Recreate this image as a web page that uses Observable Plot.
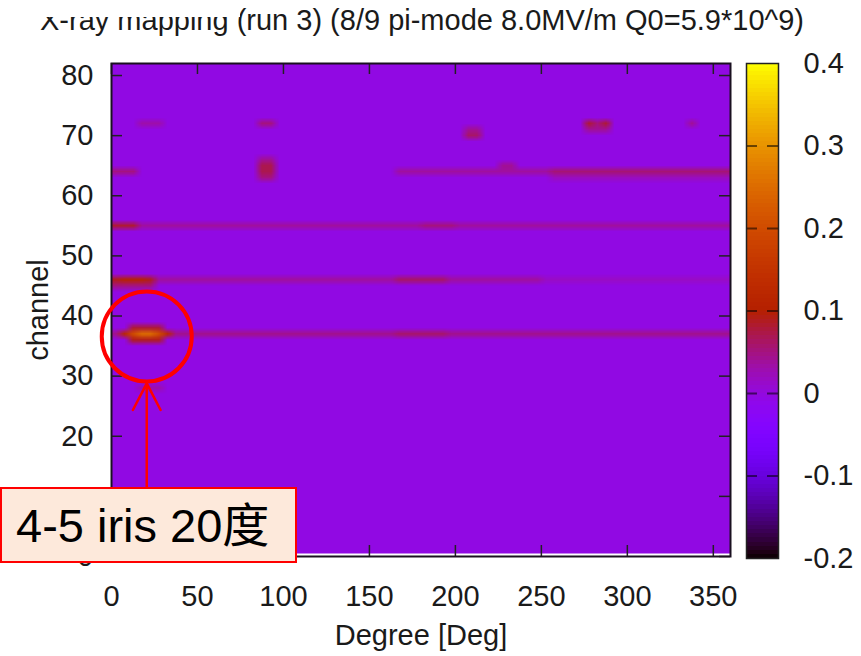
<!DOCTYPE html>
<html><head><meta charset="utf-8">
<script src="https://cdn.jsdelivr.net/npm/d3@7"></script>
<script src="https://cdn.jsdelivr.net/npm/@observablehq/plot@0.6"></script>
<style>
body{margin:0;background:#fff;font-family:"Liberation Sans",Arial,Helvetica,sans-serif;}
#wrap{position:relative;width:861px;height:656px;overflow:hidden;background:#fff;}
#title{position:absolute;left:40px;top:3px;font-size:29px;line-height:34px;color:#1a1a1a;white-space:nowrap;}
#titlecover{position:absolute;left:0;top:0;width:240px;height:17px;background:#fff;}
#main{position:absolute;left:0;top:0;}
#cbar{position:absolute;left:740px;top:0;}
#note{position:absolute;left:0;top:487px;width:297px;height:76px;box-sizing:border-box;border:2px solid #ff0000;background:#fde9db;font-size:47px;line-height:74px;padding-left:14px;color:#000;white-space:nowrap;font-family:"Liberation Sans",Arial,"Noto Sans CJK SC",sans-serif;}
</style></head>
<body><div id="wrap">
<div id="title"></div><div id="titlecover"></div>
<div id="main"></div><div id="cbar"></div><div id="note"></div>
</div>
<script>
const titleText = "X-ray mapping (run 3) (8/9 pi-mode 8.0MV/m Q0=5.9*10^9)";
const xLabel = "Degree [Deg]";
const yLabel = "channel";
const xTicks = [0, 50, 100, 150, 200, 250, 300, 350];
const yTicks = [0, 10, 20, 30, 40, 50, 60, 70, 80];
const yTickLabels = [0, 20, 30, 40, 50, 60, 70, 80];
const cbTicks = [-0.2, -0.1, 0, 0.1, 0.2, 0.3, 0.4];

// measurement grid: 5-degree columns, channels 1..82
const degrees = d3.range(0, 360, 5);
const channels = d3.range(1, 83);
const baseline = -0.005;

// features: [channel, fromDeg, toDeg, value]
const features = [
  [37, 0, 360, 0.045], [37, 165, 195, 0.06],
  [37, 5, 35, 0.12], [37, 10, 30, 0.2], [37, 15, 25, 0.25],
  [36, 10, 30, 0.09], [38, 10, 30, 0.08], [28, 15, 30, 0.03],
  [46, 0, 250, 0.035], [46, 250, 360, 0.015], [46, 0, 25, 0.09], [46, 5, 20, 0.11],
  [46, 165, 195, 0.06], [45, 0, 25, 0.05],
  [55, 0, 360, 0.035], [55, 0, 15, 0.08], [55, 180, 200, 0.05],
  [64, 0, 15, 0.05], [64, 165, 255, 0.035], [64, 255, 360, 0.055], [63, 255, 360, 0.02],
  [63, 85, 95, 0.05], [64, 85, 95, 0.07], [65, 85, 95, 0.07], [66, 85, 95, 0.04],
  [65, 225, 235, 0.04],
  [72, 85, 95, 0.05], [72, 15, 30, 0.03],
  [70, 205, 215, 0.06], [71, 205, 215, 0.04],
  [72, 275, 280, 0.08], [72, 280, 285, 0.05], [72, 285, 290, 0.08], [71, 275, 290, 0.04],
  [72, 335, 340, 0.04]
];

// annotation
const annotation = [{deg: 20.5, channel: 36.6, arrowFrom: 11.5, arrowTo: 28.8, label: "4-5 iris 20度"}];

const cells = [];
for (const c of channels) for (const d of degrees) {
  let v = baseline;
  for (const [ch, a, b, val] of features) if (ch === c && d >= a && d < b) v = Math.max(v, val);
  cells.push({deg: d + 2.5, channel: c, v});
}

function gnuplotPalette(t) {
  t = Math.max(0, Math.min(1, t));
  const r = Math.sqrt(t), g = t * t * t, b = Math.max(0, Math.sin(2 * Math.PI * t));
  return `rgb(${Math.round(255 * r)},${Math.round(255 * g)},${Math.round(255 * b)})`;
}
const colorScale = {type: "linear", domain: [-0.2, 0.4], interpolate: gnuplotPalette, clamp: true};
const font = '"Liberation Sans", Arial, Helvetica, sans-serif';

document.getElementById("title").textContent = titleText;
document.getElementById("note").textContent = annotation[0].label;

const W = 740, H = 656, ML = 111, MR = 10, MT = 63, MB = 100;
const innerW = W - ML - MR, innerH = H - MT - MB, tickLen = 11;

const main = Plot.plot({
  width: W, height: H, marginLeft: ML, marginRight: MR, marginTop: MT, marginBottom: MB,
  x: {domain: [0, 360]}, y: {domain: [0, 82]},
  color: colorScale,
  style: {fontFamily: font, fontSize: "29px", color: "#1a1a1a", background: "transparent", overflow: "visible"},
  marks: [
    Plot.raster(cells, {x: "deg", y: "channel", fill: "v", width: degrees.length, height: channels.length,
      x1: 0, x2: 360, y1: 0.5, y2: 82.5, imageRendering: "auto", clip: true}),
    Plot.tickX(xTicks, {x: d => d, insetTop: innerH - tickLen, stroke: "#222", strokeWidth: 1.5}),
    Plot.tickX(xTicks, {x: d => d, insetBottom: innerH - tickLen, stroke: "#222", strokeWidth: 1.5}),
    Plot.tickY(yTicks, {y: d => d, insetRight: innerW - tickLen, stroke: "#222", strokeWidth: 1.5}),
    Plot.tickY(yTicks, {y: d => d, insetLeft: innerW - tickLen, stroke: "#222", strokeWidth: 1.5}),
    Plot.frame({stroke: "#1a1020", strokeWidth: 2}),
    Plot.axisX({ticks: xTicks, tickSize: 0, tickPadding: 29, tickFormat: d => String(d),
      label: xLabel, labelAnchor: "center", labelOffset: 88, labelArrow: "none"}),
    Plot.axisY({ticks: yTickLabels, tickSize: 0, tickPadding: 18, tickFormat: d => String(d),
      label: yLabel, labelAnchor: "center", labelOffset: 84, labelArrow: "none"}),
    Plot.arrow(annotation, {x1: "deg", x2: "deg", y1: "arrowFrom", y2: "arrowTo", stroke: "#ff0000",
      strokeWidth: 2.5, headLength: 18, headAngle: 55}),
    Plot.dot(annotation, {x: "deg", y: "channel", r: 45, stroke: "#ff0000", strokeWidth: 4, fill: "none"})
  ]
});
document.getElementById("main").append(main);

const cbStep = 0.005;
const cbStops = d3.range(-0.2, 0.4 - 1e-9, cbStep);
const CBW = 121, CBML = 6, CBMR = 83, CBMT = 63, CBMB = 98;
const cbInner = CBW - CBML - CBMR;
const cbar = Plot.plot({
  width: CBW, height: H, marginLeft: CBML, marginRight: CBMR, marginTop: CBMT, marginBottom: CBMB,
  x: {domain: [0, 1], axis: null}, y: {domain: [-0.2, 0.4], axis: null},
  color: colorScale,
  style: {fontFamily: font, fontSize: "29px", color: "#1a1a1a", background: "transparent", overflow: "visible"},
  marks: [
    Plot.rect(cbStops, {x1: 0, x2: 1, y1: d => d, y2: d => d + cbStep, fill: d => d + cbStep / 2, shapeRendering: "crispEdges"}),
    Plot.tickY(cbTicks.slice(1, -1), {y: d => d, insetRight: cbInner - tickLen, stroke: "#000", strokeOpacity: 0.55, strokeWidth: 2}),
    Plot.tickY(cbTicks.slice(1, -1), {y: d => d, insetLeft: cbInner - tickLen, stroke: "#000", strokeOpacity: 0.55, strokeWidth: 2}),
    Plot.frame({stroke: "#222", strokeWidth: 1.5}),
    Plot.axisY({anchor: "right", ticks: cbTicks, tickSize: 0, tickPadding: 25, label: null,
      tickFormat: d => Math.abs(d) < 1e-9 ? "0" : d.toFixed(1)})
  ]
});
document.getElementById("cbar").append(cbar);
</script>
</body></html>
